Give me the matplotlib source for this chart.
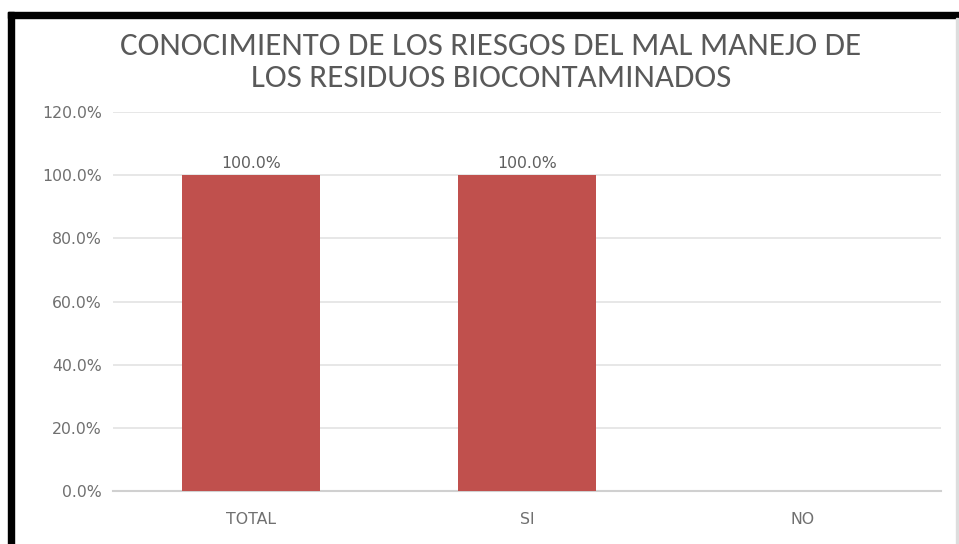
import matplotlib
matplotlib.use('Agg')
import matplotlib.pyplot as plt
import matplotlib.patches as patches
from matplotlib.ticker import FuncFormatter

categories = ["TOTAL", "SI", "NO"]
values = [100.0, 100.0, 0.0]
y_ticks = [0, 20, 40, 60, 80, 100, 120]

W, H = 959, 544
fig = plt.figure(figsize=(W / 100, H / 100), dpi=100)
fig.patch.set_facecolor('white')

# plot area in pixels: x 113..941, y 112..491
ax = fig.add_axes([113 / W, 1 - 491 / H, (941 - 113) / W, (491 - 112) / H])

bar_color = '#C0504D'
text_grey = '#707070'

x = range(len(categories))
bars = ax.bar(x, values, width=0.5, color=bar_color, zorder=3)

for b, v in zip(bars, values):
    if v > 0:
        ax.text(b.get_x() + b.get_width() / 2, v + 1.3, f"{v:.1f}%",
                ha='center', va='bottom', fontsize=11.3, color='#5f5f5f')

ax.set_xlim(-0.5, len(categories) - 0.5)
ax.set_ylim(0, 120)
ax.set_yticks(y_ticks)
ax.yaxis.set_major_formatter(FuncFormatter(lambda v, p: f"{v:.1f}%"))
ax.set_xticks(list(x))
ax.set_xticklabels(categories)

ax.grid(axis='y', color='#e3e3e3', lw=1.2, zorder=0)
for s in ['top', 'right', 'left']:
    ax.spines[s].set_visible(False)
ax.spines['bottom'].set_color('#d0d0d0')
ax.spines['bottom'].set_linewidth(1.5)
ax.tick_params(axis='both', length=0, labelsize=11.3, colors=text_grey)
ax.tick_params(axis='y', pad=8)
ax.tick_params(axis='x', pad=15)

# title
fig.text(491 / W, 1 - 62 / H,
         "CONOCIMIENTO DE LOS RIESGOS DEL MAL MANEJO DE\nLOS RESIDUOS BIOCONTAMINADOS",
         ha='center', va='center', fontsize=23.8, color='#595959',
         fontname='Carlito', linespacing=1.2)

# black frame at top and left, thin grey on right
fig.patches.append(patches.Rectangle((8 / W, 1 - 18 / H), 1 - 8 / W, 6 / H,
                                     transform=fig.transFigure, color='black'))
fig.patches.append(patches.Rectangle((8 / W, 0), 6 / W, 1 - 12 / H,
                                     transform=fig.transFigure, color='black'))
fig.patches.append(patches.Rectangle((956 / W, 0), 1.5 / W, 1 - 18 / H,
                                     transform=fig.transFigure, color='#dddddd'))

plt.savefig('out.png', dpi=100)
plt.close()
